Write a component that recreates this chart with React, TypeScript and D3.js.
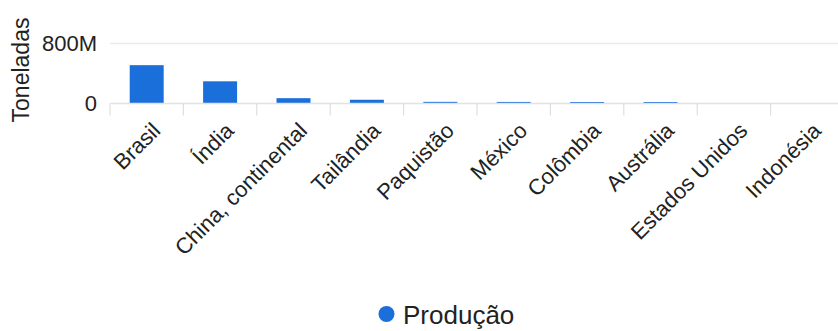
import React from "react";
import * as d3 from "d3";

// Sugarcane production by country (tonnes)
const categories: string[] = [
  "Brasil",
  "Índia",
  "China, continental",
  "Tailândia",
  "Paquistão",
  "México",
  "Colômbia",
  "Austrália",
  "Estados Unidos",
  "Indonésia",
];
const production: number[] = [511e6, 296e6, 71e6, 50e6, 22e6, 21e6, 20e6, 20e6, 2e6, 1e6];
const yTickValues: number[] = [0, 800e6];
const yTickLabels: string[] = ["0", "800M"];
const seriesName = "Produção";
const yAxisTitle = "Toneladas";

const W = 838;
const H = 331;
const FONT = "'Liberation Sans', Arial, sans-serif";
const BAR_COLOR = "#1b6fdb";

export default function App() {
  const x = d3
    .scaleBand<string>()
    .domain(categories)
    .range([110, 844])
    .paddingInner(0.537)
    .paddingOuter(0.2685);
  const y = d3.scaleLinear().domain([0, 800e6]).range([103.5, 43.5]);

  const step = x.step();
  const gap = step - x.bandwidth();
  const boundaries = categories.map((c) => (x(c) as number) - gap / 2);

  return (
    <svg
      width={W}
      height={H}
      style={{ position: "absolute", left: 0, top: 0, display: "block", background: "#fff" }}
      fontFamily={FONT}
    >
      {/* gridlines */}
      {yTickValues
        .filter((v) => v !== 0)
        .map((v) => (
          <line key={v} x1={110} x2={W} y1={y(v)} y2={y(v)} stroke="#ebebeb" strokeWidth={1.5} />
        ))}

      {/* y tick labels */}
      {yTickValues.map((v, i) => (
        <text
          key={v}
          x={97}
          y={y(v)}
          dy="0.36em"
          textAnchor="end"
          fontSize={22}
          fill="#222"
        >
          {yTickLabels[i]}
        </text>
      ))}

      {/* y axis title */}
      <text
        transform={`translate(29, 70) rotate(-90)`}
        textAnchor="middle"
        fontSize={23}
        fill="#222"
      >
        {yAxisTitle}
      </text>

      {/* bars */}
      {categories.map((c, i) => (
        <rect
          key={c}
          x={x(c)}
          width={x.bandwidth()}
          y={y(production[i])}
          height={y(0) - y(production[i])}
          fill={BAR_COLOR}
        />
      ))}

      {/* baseline and category ticks */}
      <line x1={110} x2={W} y1={y(0)} y2={y(0)} stroke="#e2e2e2" strokeWidth={1.5} />
      {boundaries.map((b, i) => (
        <line key={i} x1={b} x2={b} y1={y(0)} y2={y(0) + 12} stroke="#dedede" strokeWidth={1.2} />
      ))}

      {/* category labels */}
      {categories.map((c) => {
        const cx = (x(c) as number) + x.bandwidth() / 2;
        return (
          <text
            key={c}
            transform={`translate(${cx + 15}, 132) rotate(-45)`}
            textAnchor="end"
            fontSize={22}
            fill="#222"
          >
            {c}
          </text>
        );
      })}

      {/* legend */}
      <circle cx={386.5} cy={314} r={8} fill={BAR_COLOR} />
      <text x={403} y={324} fontSize={26} fill="#222">
        {seriesName}
      </text>
    </svg>
  );
}
